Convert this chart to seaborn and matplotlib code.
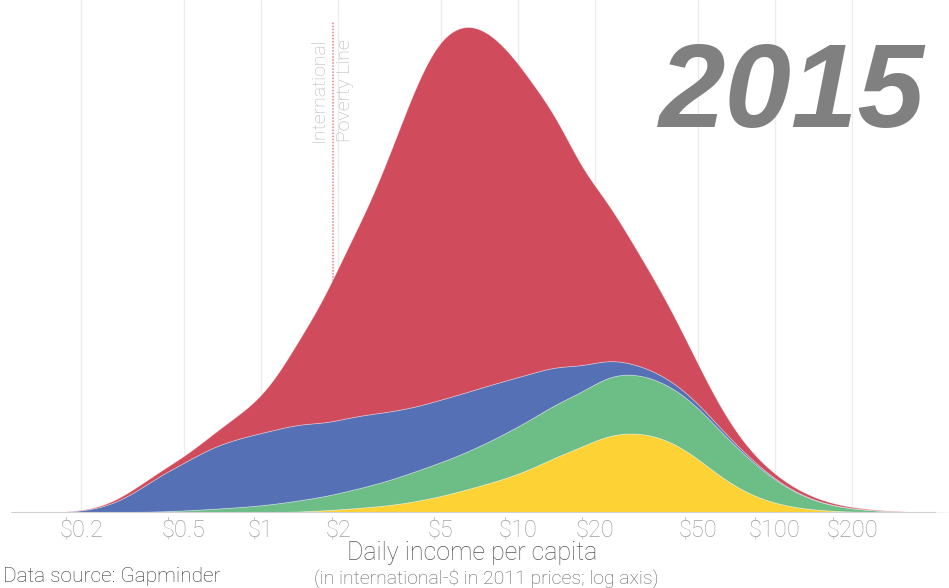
import numpy as np
import pandas as pd
import matplotlib
matplotlib.use("Agg")
import matplotlib.pyplot as plt
from matplotlib.ticker import NullLocator
import seaborn as sns

# ---- data (daily income per capita, log-spaced grid) ----
income = [0.10, 0.126, 0.158, 0.20, 0.251, 0.316, 0.398, 0.50, 0.631, 0.794,
          1.0, 1.26, 1.58, 2.0, 2.51, 3.16, 3.98, 5.01, 6.31, 7.94,
          10.0, 12.6, 15.8, 20.0, 25.1, 31.6, 39.8, 50.1, 63.1, 79.4,
          100.0, 126.0, 158.0, 200.0, 251.0, 316.0, 398.0, 501.0]

# population share per income level and region (stacked bottom -> top)
europe = [0, 0, 0, 0, 0, 0, 0, 0, 0, 0,
          0, 0.5, 1.5, 3, 5, 7, 11, 16, 23, 30,
          38, 49, 61, 73, 80, 80, 72, 55, 33, 18,
          9, 4, 2, 0.8, 0.3, 0.1, 0, 0]
americas = [0, 0, 0, 0.1, 0.2, 0.5, 1, 2, 3.5, 5,
            7, 9.5, 12.5, 16, 20, 25, 30, 34, 37, 42,
            48, 51, 54, 57, 60, 58, 55, 52, 45, 35,
            23, 12.5, 5.8, 3, 1.4, 0.6, 0.2, 0]
africa = [0, 0, 0.2, 1.2, 5, 17, 35, 47, 61.5, 68,
          73, 75, 76, 73, 72, 69, 64, 63, 60, 56,
          50, 42, 32, 21, 12, 8, 6, 4, 3, 2,
          1, 0.5, 0.3, 0.2, 0.1, 0.05, 0.02, 0]
asia = [0, 0, 0, 0.2, 1.0, 4, 4, 6, 11, 22,
        33, 63, 103, 153, 194, 254, 322, 368, 372, 352,
        318, 270, 224, 177, 136, 102, 70, 38, 17, 6,
        4.5, 3, 2, 1, 0.5, 0.2, 0.08, 0]

region_names = ["Europe", "Americas", "Africa", "Asia"]   # bottom -> top
region_colors = ["#FDD234", "#6DBD87", "#5670B5", "#D04B5B"]

tick_values = [0.2, 0.5, 1, 2, 5, 10, 20, 50, 100, 200]
tick_labels = [r"\$0.2", r"\$0.5", r"\$1", r"\$2", r"\$5", r"\$10", r"\$20",
               r"\$50", r"\$100", r"\$200"]
poverty_line = 1.9
year_label = "2015"

series = {"Europe": europe, "Americas": americas, "Africa": africa, "Asia": asia}
df = pd.concat([pd.DataFrame({"income": income, "region": name, "pop": vals})
                for name, vals in series.items()], ignore_index=True)

# ---- style ----
sns.set_theme(style="white")
plt.rcParams["font.family"] = ["Roboto", "Liberation Sans", "DejaVu Sans"]
light = dict(family=["Roboto", "Liberation Sans", "DejaVu Sans"], fontweight="light")

W, H = 949, 588
fig = plt.figure(figsize=(W / 100, H / 100), dpi=100)
base_px = 513
ax = fig.add_axes([0, (H - base_px) / H, 1, base_px / H])

bw_sigma = 0.075   # kernel width in decades


def fixed_bw(kde):
    cov = np.cov(kde.dataset, aweights=kde.weights)
    return bw_sigma / np.sqrt(cov)


sns.kdeplot(data=df, x="income", weights="pop", hue="region",
            hue_order=region_names[::-1],
            palette=dict(zip(region_names, region_colors)),
            multiple="stack", fill=True, alpha=1, log_scale=True,
            bw_method=fixed_bw, gridsize=500, cut=3, legend=False,
            edgecolor=(1, 1, 1, 0.35), linewidth=0.6, ax=ax, zorder=3)

x_one_px, decade_px = 261, 257
ax.set_xlim(10 ** ((0 - x_one_px) / decade_px), 10 ** ((W - x_one_px) / decade_px))
scale = df["pop"].sum() * 0.1          # density -> picture units
ax.set_ylim(0, base_px / scale)
ax.set_xlabel("")
ax.set_ylabel("")

# grid & ticks
ax.set_xticks(tick_values)
ax.set_xticklabels(tick_labels, **light)
ax.xaxis.set_minor_locator(NullLocator())
ax.set_yticks([])
ax.grid(axis="x", color="#ececec", lw=1, zorder=0)
ax.set_axisbelow(True)
ax.tick_params(axis="x", length=0, pad=4, labelsize=17, labelcolor="#a0a0a0")
sns.despine(ax=ax, left=True, bottom=True, top=True, right=True)
ax.axhline(0, xmin=12 / W, xmax=935 / W, color="#cfcfcf", lw=1.5, zorder=4)

# poverty line
ax.plot([poverty_line, poverty_line], [0, (base_px - 22) / scale], color="#e0808c",
        ls=(0, (1, 1)), lw=1.1, zorder=1)
fig.text(319 / W, 1 - 142 / H, "International", rotation=90, ha="center",
         va="bottom", color="#b5b5b5", fontsize=14, **light)
fig.text(345 / W, 1 - 142 / H, "Poverty Line", rotation=90, ha="center",
         va="bottom", color="#b5b5b5", fontsize=14, **light)

# year
fig.text(925 / W, 1 - 127 / H, year_label, ha="right", va="baseline",
         fontsize=86, fontweight="bold", fontstyle="italic", color="#808080",
         family=["Liberation Sans", "DejaVu Sans"])

# axis titles
fig.text(472 / W, 1 - 553 / H, "Daily income per capita", ha="center",
         va="center", fontsize=18, color="#555555", **light)
fig.text(486 / W, 1 - 578 / H, "(in international-\\$ in 2011 prices; log axis)",
         ha="center", va="center", fontsize=14, color="#606060", **light)
fig.text(3 / W, 1 - 586 / H, "Data source: Gapminder", ha="left", va="bottom",
         fontsize=15, color="#333333", **light)

fig.savefig("out.png", dpi=100)
